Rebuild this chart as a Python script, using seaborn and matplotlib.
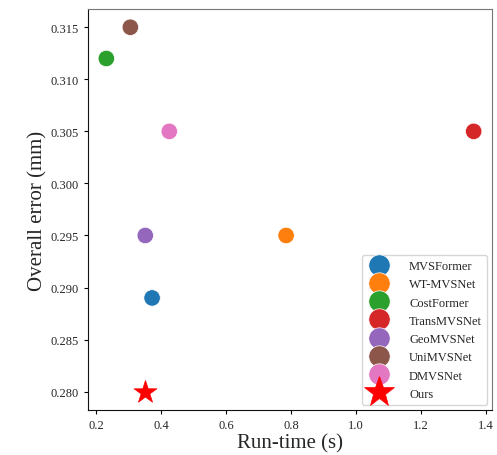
import matplotlib
matplotlib.use("Agg")
import matplotlib.pyplot as plt
import seaborn as sns
import pandas as pd

methods = ["MVSFormer", "WT-MVSNet", "CostFormer", "TransMVSNet", "GeoMVSNet", "UniMVSNet", "DMVSNet"]
runtime = [0.372, 0.785, 0.231, 1.363, 0.351, 0.305, 0.425]
error = [0.289, 0.295, 0.312, 0.305, 0.295, 0.315, 0.305]
ours_name = ["Ours"]
ours_runtime = [0.351]
ours_error = [0.280]
xticks = [0.2, 0.4, 0.6, 0.8, 1.0, 1.2, 1.4]
yticks = [0.280, 0.285, 0.290, 0.295, 0.300, 0.305, 0.310, 0.315]

sns.set_style("ticks")
plt.rcParams['font.family'] = ['Liberation Serif', 'DejaVu Serif']

df = pd.DataFrame({"method": methods, "runtime": runtime, "error": error})
df_ours = pd.DataFrame({"method": ours_name, "runtime": ours_runtime, "error": ours_error})

fig = plt.figure(figsize=(4.97, 4.56), dpi=100)
ax = fig.add_axes([0.177, 0.099, 0.813, 0.879])

sns.scatterplot(data=df, x="runtime", y="error", hue="method", palette="tab10",
                s=140, edgecolor="white", linewidth=0.5, ax=ax)
sns.scatterplot(data=df_ours, x="runtime", y="error", hue="method", palette=["red"],
                marker="*", s=300, edgecolor="red", linewidth=0.5, ax=ax)

ax.set_xlabel("Run-time (s)", fontsize=15, labelpad=2)
ax.set_ylabel("Overall error (mm)", fontsize=15, labelpad=2)
ax.tick_params(labelsize=9, length=3, color="black")
ax.set_xticks(xticks)
ax.set_xticklabels([f"{v:.1f}" for v in xticks])
ax.set_yticks(yticks)
ax.set_yticklabels([f"{v:.3f}" for v in yticks])

for side in ["top", "right"]:
    ax.spines[side].set_color("#777777")
for side in ["left", "bottom"]:
    ax.spines[side].set_color("#111111")

ax.legend(loc="lower right", fontsize=9, markerscale=1.3, title=None,
          handletextpad=1.4, borderaxespad=0.4)

fig.savefig("out.png", dpi=100)
